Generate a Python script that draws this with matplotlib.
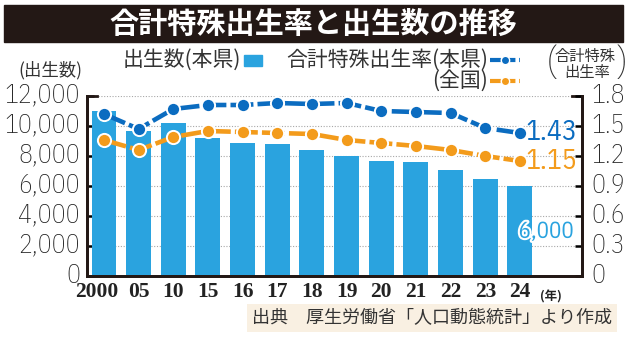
import matplotlib
matplotlib.use('Agg')
import matplotlib.pyplot as plt
from matplotlib.patches import Rectangle
from matplotlib.lines import Line2D
from matplotlib.transforms import ScaledTranslation
import matplotlib.patheffects as pe

# data
years = ['2000', '05', '10', '15', '16', '17', '18', '19', '20', '21', '22', '23', '24']
births = [11000, 9700, 10200, 9200, 8900, 8800, 8400, 8000, 7700, 7600, 7100, 6500, 6000]
tfr_pref = [1.62, 1.47, 1.67, 1.71, 1.71, 1.73, 1.72, 1.73, 1.65, 1.64, 1.63, 1.48, 1.43]
tfr_nat = [1.36, 1.26, 1.39, 1.45, 1.44, 1.43, 1.42, 1.36, 1.33, 1.30, 1.26, 1.20, 1.15]
left_ticks = [0, 2000, 4000, 6000, 8000, 10000, 12000]
right_ticks = [0, 0.3, 0.6, 0.9, 1.2, 1.5, 1.8]
right_labels = ['0', '0.3', '0.6', '0.9', '1.2', '1.5', '1.8']

BAR = '#2aa3df'
BLUE = '#0b6cc0'
ORANGE = '#f39b1b'
JP = ['Noto Sans CJK JP', 'DejaVu Sans']
NUM = ['IBM Plex Sans Condensed', 'DejaVu Sans']
SERIF = ['Liberation Serif', 'DejaVu Serif']

plt.rcParams['font.family'] = JP

W, H = 640, 339
def fx(px):
    return px / W
def fy(py):
    return 1 - py / H

fig = plt.figure(figsize=(6.4, 3.39), dpi=100)
ax = fig.add_axes([fx(87), fy(276), fx(582) - fx(87), fy(96) - fy(276)])
ax2 = ax.twinx()

x = list(range(len(years)))
ax.bar(x, births, width=0.72, color=BAR, zorder=2)
ax.set_xlim(-0.49, 13.79)
ax.set_ylim(0, 12000)
ax.set_axisbelow(True)
ax.yaxis.grid(True, linestyle=(0, (1, 1.5)), color='#a8a8a8', lw=0.8)

ax.set_yticks(left_ticks)
ax.set_yticklabels([f'{v:,}' for v in left_ticks], family=NUM, fontsize=18.5,
                   weight='light', color='#222222')
ax.set_xticks(x)
ax.set_xticklabels(years, family=SERIF, fontsize=15.5, weight='bold', color='#222222')
ax.tick_params(axis='y', direction='in', length=5, width=1.8, pad=5)
ax.tick_params(axis='x', direction='in', length=3.5, width=1.5, pad=4)
# first label sits a little left of its bar
first = ax.get_xticklabels()[0]
first.set_transform(first.get_transform() + ScaledTranslation(-5 / 72, 0, fig.dpi_scale_trans))

for a in (ax, ax2):
    a.spines['top'].set_visible(False)
    for s in ('left', 'right', 'bottom'):
        a.spines[s].set_linewidth(2)
        a.spines[s].set_color('#231815')

# short corner pieces at the top of the frame
ax.plot([0, 0.02], [1, 1], transform=ax.transAxes, color='#231815', lw=2, clip_on=False)
ax.plot([0.98, 1], [1, 1], transform=ax.transAxes, color='#231815', lw=2, clip_on=False)

ax2.set_ylim(0, 1.8)
ax2.set_yticks(right_ticks)
ax2.set_yticklabels(right_labels, family=NUM, fontsize=18.5, weight='light', color='#222222')
ax2.tick_params(axis='y', direction='in', length=5, width=1.8, pad=7)

# y labels sit a touch above their ticks
up = ScaledTranslation(0, 2.5 / 72, fig.dpi_scale_trans)
for lbl in ax.get_yticklabels() + ax2.get_yticklabels():
    lbl.set_transform(lbl.get_transform() + up)

style = dict(lw=3.3, dashes=(5, 0.9), marker='o', markersize=9.5,
             markeredgecolor='white', markeredgewidth=1.4, clip_on=False)
ax2.plot(x, tfr_nat, color=ORANGE, markerfacecolor=ORANGE, zorder=3, **style)
ax2.plot(x, tfr_pref, color=BLUE, markerfacecolor=BLUE, zorder=4, **style)

ax2.annotate(f'{tfr_pref[-1]:.2f}', (x[-1], tfr_pref[-1]), xytext=(4, 0),
             textcoords='offset points', ha='left', va='center',
             family=NUM, fontsize=20, color=BLUE)
ax2.annotate(f'{tfr_nat[-1]:.2f}', (x[-1], tfr_nat[-1]), xytext=(4, 0),
             textcoords='offset points', ha='left', va='center',
             family=NUM, fontsize=20, color=ORANGE)
ax.annotate(f'{births[-1]:,}', (x[-1], births[-1]), xytext=(-1, -33),
            textcoords='offset points', ha='left', va='center',
            family=NUM, fontsize=16.5, color=BAR,
            path_effects=[pe.withStroke(linewidth=3, foreground='white')])

# title bar
fig.patches.append(Rectangle((fx(4), fy(42)), fx(623) - fx(4), fy(5) - fy(42),
                             transform=fig.transFigure, color='#231815'))
fig.text(fx(313), fy(23.5), '合計特殊出生率と出生数の推移', ha='center', va='center',
         color='white', fontsize=21, weight='bold')

# legend
fig.text(fx(241), fy(60), '出生数(本県)', ha='right', va='center', fontsize=15, color='#333333')
fig.patches.append(Rectangle((fx(244), fy(66)), fx(18), 11 / H,
                             transform=fig.transFigure, color=BAR))
fig.text(fx(488), fy(60), '合計特殊出生率(本県)', ha='right', va='center', fontsize=15, color='#333333')
fig.text(fx(488), fy(81), '(全国)', ha='right', va='center', fontsize=15, color='#333333')
for yy, c in ((60, BLUE), (81, ORANGE)):
    fig.add_artist(Line2D([fx(490), fx(505), fx(520)], [fy(yy)] * 3, transform=fig.transFigure,
                          color=c, lw=3, dashes=(2.6, 0.9), marker='o', markersize=6,
                          markevery=[1], markerfacecolor=c, markeredgecolor='white'))

# axis titles
fig.text(fx(50), fy(70), '(出生数)', ha='center', va='center', fontsize=12.5, color='#333333')
fig.text(fx(585), fy(56), '合計特殊', ha='center', va='center', fontsize=11, color='#333333')
fig.text(fx(587), fy(72), '出生率', ha='center', va='center', fontsize=11, color='#333333')
fig.text(fx(551), fy(64), '(', ha='center', va='center', family=NUM, fontsize=27,
         color='#333333', weight='light')
fig.text(fx(622), fy(64), ')', ha='center', va='center', family=NUM, fontsize=27,
         color='#333333', weight='light')
fig.text(fx(551), fy(297), '(年)', ha='center', va='center', fontsize=9,
         weight='bold', color='#222222')

# source box
fig.text(fx(252), fy(318), '出典　厚生労働省「人口動態統計」より作成', ha='left', va='center',
         fontsize=13, color='#333333',
         bbox=dict(boxstyle='square,pad=0.25', fc='#f9f0e2', ec='none'))

fig.savefig('out.png', dpi=100)
